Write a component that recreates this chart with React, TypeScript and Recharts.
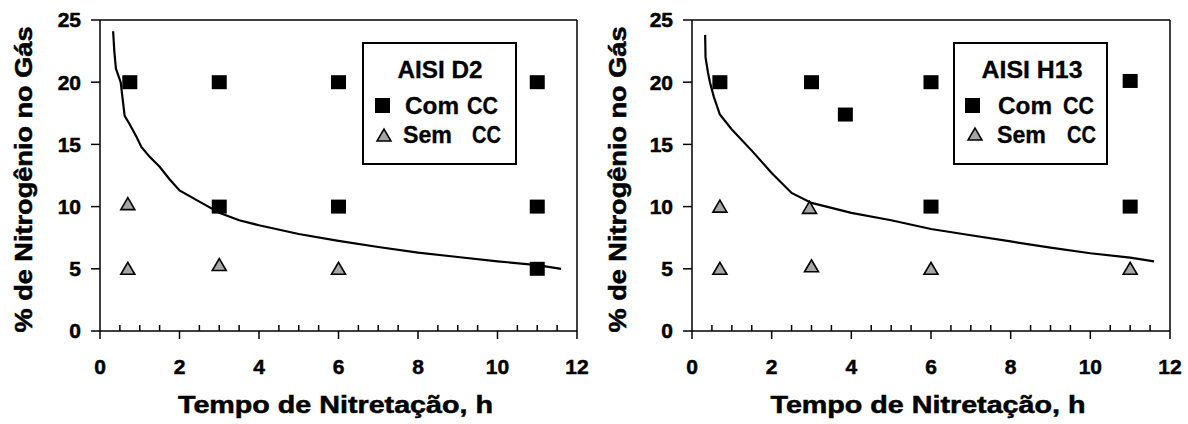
import React from 'react'
import { ComposedChart, Scatter, Line, XAxis, YAxis, ReferenceLine } from 'recharts'

const FONT = '"Liberation Sans", Arial, sans-serif'

// axis ticks
const xTicks = [0, 0.5, 1, 1.5, 2, 2.5, 3, 3.5, 4, 4.5, 5, 5.5, 6, 6.5, 7, 7.5, 8, 8.5, 9, 9.5, 10, 10.5, 11, 11.5, 12]
const xMajor = [0, 2, 4, 6, 8, 10, 12]
const yTicks = [0, 5, 10, 15, 20, 25]

// AISI D2
const d2ComX = [0.75, 3, 6, 11, 3, 6, 11, 11]
const d2ComY = [20, 20, 20, 20, 10, 10, 10, 5]
const d2SemX = [0.7, 0.7, 3, 6]
const d2SemY = [10.2, 5, 5.3, 5]
const d2CurveX = [0.33, 0.36, 0.4, 0.52, 0.62, 0.75, 0.92, 1.04, 1.25, 1.5, 1.75, 2.0, 2.5, 3.0, 3.5, 4.0, 5.0, 6.0, 7.0, 8.0, 9.0, 10.0, 11.0, 11.6]
const d2CurveY = [24.1, 22.5, 21.1, 20.0, 17.3, 16.6, 15.6, 14.8, 14.0, 13.2, 12.2, 11.3, 10.4, 9.5, 8.9, 8.5, 7.8, 7.25, 6.75, 6.3, 5.95, 5.6, 5.3, 5.0]

// AISI H13
const h13ComX = [0.7, 3, 3.85, 6, 11, 6, 11]
const h13ComY = [20, 20, 17.4, 20, 20.1, 10, 10]
const h13SemX = [0.7, 0.7, 2.95, 3, 6, 11]
const h13SemY = [10, 5, 9.9, 5.2, 5, 5]
const h13CurveX = [0.33, 0.34, 0.4, 0.45, 0.55, 0.7, 1.0, 1.5, 2.0, 2.5, 3.0, 3.5, 4.0, 5.0, 6.0, 7.0, 8.0, 9.0, 10.0, 11.0, 11.6]
const h13CurveY = [23.8, 22.0, 20.8, 20.0, 18.8, 17.4, 16.2, 14.5, 12.7, 11.1, 10.3, 9.9, 9.5, 8.9, 8.2, 7.7, 7.2, 6.7, 6.25, 5.9, 5.6]

const pts = (xs: number[], ys: number[]) => xs.map((x, i) => ({ x, y: ys[i] }))

// heavier bold, like the source raster
const bold = { fontWeight: 'bold', fontFamily: FONT, fill: '#000', stroke: '#000', strokeWidth: 0.5 } as any

const Square = (p: any) => <rect x={p.cx - 7.5} y={p.cy - 7} width={15} height={14} fill="#000" />
const Tri = (p: any) => (
  <polygon
    points={`${p.cx - 7},${p.cy + 5.5} ${p.cx + 7},${p.cy + 5.5} ${p.cx},${p.cy - 6.5}`}
    fill="#a6a6a6"
    stroke="#000"
    strokeWidth={1.6}
  />
)

function XTick({ x, y, payload }: any) {
  const v = payload.value
  const major = xMajor.includes(v)
  return (
    <g>
      <line x1={x} x2={x} y1={y} y2={major ? y + 8 : y - 6} stroke="#000" strokeWidth={1.5} />
      {major && (
        <text x={x} y={y + 43} textAnchor="middle" fontSize={21} {...bold}>
          {v}
        </text>
      )}
    </g>
  )
}

function Panel({ title, com, sem, curve, yLabelX, marginRight, yWidth, lg }: any) {
  const yTitle = ({ viewBox }: any) => {
    const cy = viewBox.y + viewBox.height / 2 + 4
    return (
      <text
        x={yLabelX}
        y={cy}
        transform={`rotate(-90 ${yLabelX} ${cy})`}
        textAnchor="middle"
        fontSize={23}
        {...bold}
        textLength={306}
        lengthAdjust="spacingAndGlyphs"
      >
        % de Nitrogênio no Gás
      </text>
    )
  }
  const xTitle = ({ viewBox }: any) => (
    <text
      x={viewBox.x + viewBox.width / 2 - 3}
      y={viewBox.y + 82}
      textAnchor="middle"
      fontSize={23}
      {...bold}
      textLength={315}
      lengthAdjust="spacingAndGlyphs"
    >
      Tempo de Nitretação, h
    </text>
  )
  const t = { fontSize: 23, ...bold, strokeWidth: 0.3 }
  return (
    <div style={{ position: 'relative', width: 594, height: 424 }}>
      <ComposedChart width={594} height={424} margin={{ top: 20, right: marginRight, bottom: 0, left: 0 }}>
        <XAxis
          type="number"
          dataKey="x"
          domain={[0, 12]}
          ticks={xTicks}
          interval={0}
          height={93}
          tickSize={0}
          tickMargin={0}
          tickLine={false}
          tick={<XTick />}
          axisLine={{ stroke: '#000', strokeWidth: 1.5 }}
          label={xTitle}
        />
        <YAxis
          type="number"
          dataKey="y"
          domain={[0, 25]}
          ticks={yTicks}
          interval={0}
          width={yWidth}
          tickSize={9}
          tickMargin={10}
          tickLine={{ stroke: '#000', strokeWidth: 1.5 }}
          axisLine={{ stroke: '#000', strokeWidth: 1.5 }}
          tick={{ fontSize: 21, ...bold }}
          label={yTitle}
        />
        <ReferenceLine y={25} stroke="#000" strokeWidth={1.5} />
        <ReferenceLine x={12} stroke="#000" strokeWidth={1.5} />
        <Line data={curve} dataKey="y" type="linear" stroke="#000" strokeWidth={2.2} dot={false} isAnimationActive={false} />
        <Scatter data={com} dataKey="y" shape={Square} isAnimationActive={false} />
        <Scatter data={sem} dataKey="y" shape={Tri} isAnimationActive={false} />
      </ComposedChart>
      <svg style={{ position: 'absolute', left: lg.left, top: 42 }} width={156} height={124}>
        <rect x={1} y={1} width={153} height={121} fill="#fff" stroke="#000" strokeWidth={2} />
        <text x={lg.titleX} y={36} textAnchor="middle" {...t} textLength={lg.titleW} lengthAdjust="spacingAndGlyphs">
          {title}
        </text>
        <rect x={lg.sqX} y={56} width={15} height={15} fill="#000" />
        <text x={lg.comX} y={72} {...t} textLength={54} lengthAdjust="spacingAndGlyphs">Com</text>
        <text x={lg.cc1X} y={72} {...t} textLength={31} lengthAdjust="spacingAndGlyphs">CC</text>
        <polygon
          points={`${lg.triX},${lg.triY + 12} ${lg.triX + 14},${lg.triY + 12} ${lg.triX + 7},${lg.triY}`}
          fill="#a6a6a6"
          stroke="#000"
          strokeWidth={1.5}
        />
        <text x={lg.semX} y={101} {...t} textLength={49} lengthAdjust="spacingAndGlyphs">Sem</text>
        <text x={lg.cc2X} y={101} {...t} textLength={29} lengthAdjust="spacingAndGlyphs">CC</text>
      </svg>
    </div>
  )
}

export default function App() {
  return (
    <div style={{ position: 'absolute', left: 0, top: 0, width: 1188, height: 424, background: '#fff', display: 'flex' }}>
      <Panel
        title="AISI D2"
        com={pts(d2ComX, d2ComY)}
        sem={pts(d2SemX, d2SemY)}
        curve={pts(d2CurveX, d2CurveY)}
        yLabelX={32}
        marginRight={17}
        yWidth={100}
        lg={{ left: 362, titleX: 78, titleW: 85, sqX: 13, comX: 43, cc1X: 105, triX: 15, triY: 87, semX: 41, cc2X: 110 }}
      />
      <Panel
        title="AISI H13"
        com={pts(h13ComX, h13ComY)}
        sem={pts(h13SemX, h13SemY)}
        curve={pts(h13CurveX, h13CurveY)}
        yLabelX={32}
        marginRight={18}
        yWidth={98}
        lg={{ left: 359, titleX: 79, titleW: 101, sqX: 12, comX: 45, cc1X: 110, triX: 15, triY: 86, semX: 44, cc2X: 114 }}
      />
    </div>
  )
}
